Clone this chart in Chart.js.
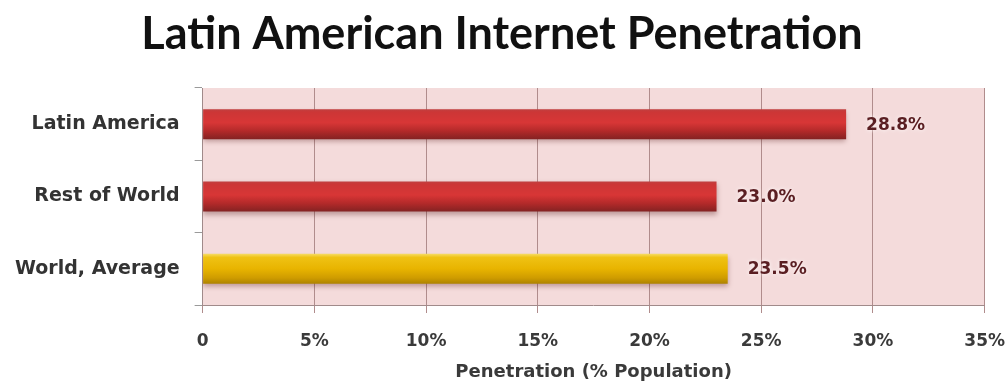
<!DOCTYPE html>
<html>
<head>
<meta charset="utf-8">
<script src="https://cdn.jsdelivr.net/npm/chart.js@4.4.1/dist/chart.umd.min.js"></script>
<style>
  html, body { margin: 0; padding: 0; background: #ffffff; }
  #wrap { width: 1005px; height: 391px; position: relative; }
</style>
</head>
<body>
<div id="wrap"><canvas id="c" width="1005" height="391"></canvas></div>
<script>
const categories = ['Latin America', 'Rest of World', 'World, Average'];
const values = [28.8, 23.0, 23.5];
const valueLabels = ['28.8%', '23.0%', '23.5%'];
const barKinds = ['red', 'red', 'gold'];
const xTickLabels = {0: '0', 5: '5%', 10: '10%', 15: '15%', 20: '20%', 25: '25%', 30: '30%', 35: '35%'};

const BAR_PCT = 0.415;
const X_TICK_PAD = 18;
const gradStops = {
  red: [[0, '#c04040'], [0.1, '#cc3636'], [0.45, '#d83636'], [0.72, '#b42a2a'], [1, '#842222']],
  gold: [[0, '#f6dc66'], [0.12, '#efc214'], [0.5, '#e8b400'], [0.8, '#cf9c00'], [1, '#ad8200']]
};

function barFill(ctx) {
  const chart = ctx.chart;
  if (!chart.chartArea || !chart.scales.y) return '#c03030';
  const y = chart.scales.y;
  const center = y.getPixelForValue(ctx.dataIndex);
  const band = (y.bottom - y.top) / categories.length;
  const h = band * BAR_PCT;
  const g = chart.ctx.createLinearGradient(0, center - h / 2, 0, center + h / 2);
  gradStops[barKinds[ctx.dataIndex]].forEach(s => g.addColorStop(s[0], s[1]));
  return g;
}

const bgPlugin = {
  id: 'plotBg',
  beforeDraw(chart) {
    const {ctx, chartArea: a} = chart;
    ctx.save();
    ctx.fillStyle = '#f4dbdb';
    ctx.fillRect(a.left, a.top, a.right - a.left, a.bottom - a.top);
    ctx.restore();
  }
};

const shadowPlugin = {
  id: 'barShadow',
  beforeDatasetsDraw(chart) {
    const ctx = chart.ctx;
    ctx.save();
    ctx.shadowColor = 'rgba(90,30,30,0.35)';
    ctx.shadowBlur = 5;
    ctx.shadowOffsetY = 3;
  },
  afterDatasetsDraw(chart) {
    chart.ctx.restore();
  }
};

const labelPlugin = {
  id: 'valueLabels',
  afterDatasetsDraw(chart) {
    const ctx = chart.ctx;
    const meta = chart.getDatasetMeta(0);
    ctx.save();
    ctx.font = 'bold 17px "DejaVu Sans", sans-serif';
    ctx.fillStyle = '#5a1e22';
    ctx.textAlign = 'left';
    ctx.textBaseline = 'middle';
    ctx.shadowColor = 'rgba(255,255,255,0.9)';
    ctx.shadowBlur = 4;
    meta.data.forEach((bar, i) => {
      ctx.fillText(valueLabels[i], bar.x + 20, bar.y + 1);
    });
    ctx.restore();
  }
};

new Chart(document.getElementById('c'), {
  type: 'bar',
  data: {
    labels: categories,
    datasets: [{
      data: values,
      backgroundColor: barFill,
      borderWidth: 0,
      categoryPercentage: 1,
      barPercentage: BAR_PCT
    }]
  },
  options: {
    indexAxis: 'y',
    responsive: false,
    animation: false,
    devicePixelRatio: 1,
    layout: { padding: { left: 0, right: 1, top: 0, bottom: 8 } },
    plugins: {
      legend: { display: false },
      tooltip: { enabled: false },
      title: {
        display: true,
        text: 'Latin American Internet Penetration',
        color: '#111111',
        font: { family: 'Lato, "Open Sans", sans-serif', size: 45, weight: 'bold', lineHeight: 1.2 },
        padding: { top: 7, bottom: 27 }
      }
    },
    scales: {
      x: {
        min: 0, max: 35,
        afterFit: (scale) => {
          scale.paddingRight = Math.max(0, scale.paddingRight - X_TICK_PAD);
        },
        ticks: {
          stepSize: 5,
          color: '#3a3a3a',
          font: { family: '"DejaVu Sans", sans-serif', size: 17, weight: 'bold', lineHeight: 1.2 },
          padding: X_TICK_PAD,
          callback: (v) => xTickLabels[v] !== undefined ? xTickLabels[v] : ''
        },
        grid: { color: '#b08c8c', lineWidth: 1, tickLength: 8, drawTicks: true },
        border: { display: true, color: '#a08a8a', width: 1 },
        title: {
          display: true,
          text: 'Penetration (% Population)',
          color: '#3a3a3a',
          font: { family: '"DejaVu Sans", sans-serif', size: 18, weight: 'bold', lineHeight: 1.2 },
          padding: { top: -8, bottom: 0 }
        }
      },
      y: {
        ticks: {
          color: '#333333',
          font: { family: '"DejaVu Sans", sans-serif', size: 19, weight: 'bold' },
          padding: 15
        },
        grid: { display: true, drawOnChartArea: false, drawTicks: true, tickLength: 8, color: '#9a9a9a', offset: true },
        border: { display: true, color: '#a08a8a', width: 1 }
      }
    }
  },
  plugins: [bgPlugin, shadowPlugin, labelPlugin]
});
</script>
</body>
</html>
